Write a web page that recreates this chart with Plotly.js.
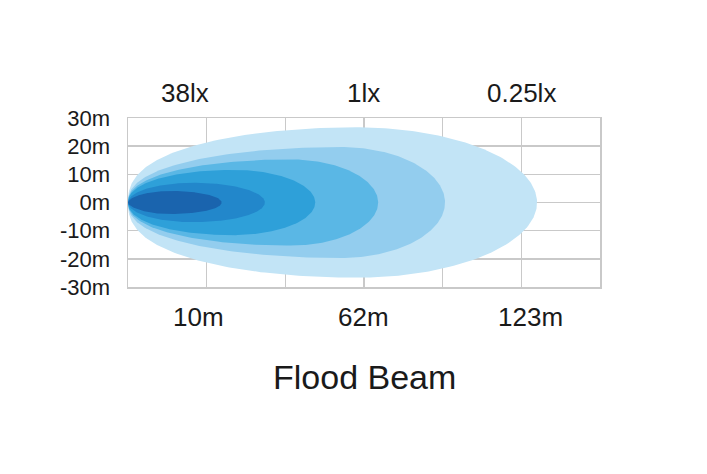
<!DOCTYPE html>
<html>
<head>
<meta charset="utf-8">
<script src="https://cdn.plot.ly/plotly-3.0.1.min.js"></script>
<style>html,body{margin:0;padding:0;background:#fff;}#chart{width:707px;height:474px;}</style>
</head>
<body>
<div id="chart"></div>
<script>
// Beam contours, outermost first (x in grid columns, y in metres)
var contourReach = [5.2, 4.03, 3.18, 2.38, 1.74, 1.19];
var contourPeakX = [2.9, 2.7, 2.06, 1.33, 0.83, 0.54];
var contourHalfWidth = [26.7, 19.7, 15.3, 11.6, 7.0, 4.1];
var contourNoseExp = [0.4, 0.42, 0.43, 0.45, 0.5, 0.58];
var contourColors = ['#c2e4f6', '#93cdee', '#5ab7e5', '#2ea0d9', '#2287cb', '#1a64ae'];

var yTickVals = [30, 20, 10, 0, -10, -20, -30];
var yTickText = ['30m', '20m', '10m', '0m', '-10m', '-20m', '-30m'];
var luxLabels = ['38lx', '1lx', '0.25lx'];
var luxLabelX = [0.72, 2.99, 5.0];
var distLabels = ['10m', '62m', '123m'];
var distLabelX = [0.89, 2.99, 5.12];
var chartTitle = 'Flood Beam';

function outline(reach, peak, w, p) {
  var xs = [], ys = [], n = 80, i, s, a = reach - peak;
  for (i = 0; i <= n; i++) { s = Math.PI / 2 * (i / n); xs.push(peak - peak * Math.cos(s)); ys.push(w * Math.pow(Math.sin(s), 2 * p)); }
  for (i = 1; i <= n; i++) { s = Math.PI / 2 * (i / n); xs.push(peak + a * Math.sin(s)); ys.push(w * Math.cos(s)); }
  for (i = 1; i <= n; i++) { s = Math.PI / 2 * (1 - i / n); xs.push(peak + a * Math.sin(s)); ys.push(-w * Math.cos(s)); }
  for (i = 1; i <= n; i++) { s = Math.PI / 2 * (1 - i / n); xs.push(peak - peak * Math.cos(s)); ys.push(-w * Math.pow(Math.sin(s), 2 * p)); }
  return {x: xs, y: ys};
}

var traces = contourReach.map(function (r, k) {
  var o = outline(r, contourPeakX[k], contourHalfWidth[k], contourNoseExp[k]);
  return {x: o.x, y: o.y, type: 'scatter', mode: 'lines', fill: 'toself',
    fillcolor: contourColors[k], line: {width: 0, color: contourColors[k]}, hoverinfo: 'skip', showlegend: false};
});

var font = 'Arial, "Liberation Sans", Helvetica, sans-serif';
var annotations = [];
luxLabels.forEach(function (t, i) {
  annotations.push({text: t, x: luxLabelX[i], xref: 'x', y: 1.15, yref: 'paper', showarrow: false,
    xanchor: 'center', yanchor: 'middle', font: {family: font, size: 26, color: '#1a1a1a'}});
});
distLabels.forEach(function (t, i) {
  annotations.push({text: t, x: distLabelX[i], xref: 'x', y: -0.175, yref: 'paper', showarrow: false,
    xanchor: 'center', yanchor: 'middle', font: {family: font, size: 26, color: '#1a1a1a'}});
});
annotations.push({text: chartTitle, x: 0.5, xref: 'paper', y: -0.53, yref: 'paper', showarrow: false,
  xanchor: 'center', yanchor: 'middle', font: {family: font, size: 34, color: '#1a1a1a'}});

var layout = {
  width: 707, height: 474,
  margin: {l: 128, r: 107, t: 118, b: 187, pad: 0},
  paper_bgcolor: '#ffffff', plot_bgcolor: '#ffffff',
  showlegend: false,
  xaxis: {range: [0, 6], tickvals: [0, 1, 2, 3, 4, 5, 6], showticklabels: false, ticks: '',
    showgrid: true, gridcolor: '#c9c9c9', gridwidth: 1.5, zeroline: false,
    showline: true, mirror: true, linecolor: '#c9c9c9', linewidth: 1.5, fixedrange: true},
  yaxis: {range: [-30, 30], tickvals: yTickVals, ticktext: yTickText, ticks: '',
    ticklabelstandoff: 12,
    tickfont: {family: font, size: 22, color: '#1a1a1a'},
    showgrid: true, gridcolor: '#c9c9c9', gridwidth: 1.5, zeroline: false,
    showline: true, mirror: true, linecolor: '#c9c9c9', linewidth: 1.5, fixedrange: true},
  annotations: annotations,
  hovermode: false
};

Plotly.newPlot('chart', traces, layout, {displayModeBar: false, staticPlot: true});
</script>
</body>
</html>
